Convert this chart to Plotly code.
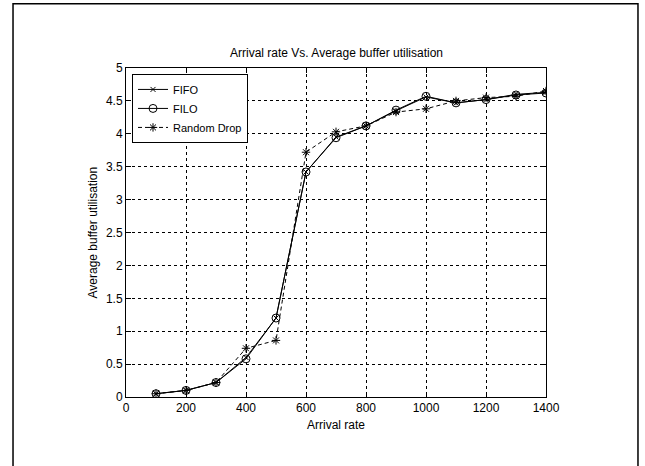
import plotly.graph_objects as go

arrival = [100, 200, 300, 400, 500, 600, 700, 800, 900, 1000, 1100, 1200, 1300, 1400]
fifo = [0.05, 0.10, 0.22, 0.60, 1.20, 3.42, 3.95, 4.12, 4.35, 4.56, 4.47, 4.52, 4.60, 4.63]
filo = [0.05, 0.10, 0.22, 0.58, 1.20, 3.42, 3.94, 4.12, 4.36, 4.57, 4.47, 4.52, 4.59, 4.62]
random_drop = [0.05, 0.10, 0.22, 0.74, 0.86, 3.72, 4.03, 4.12, 4.33, 4.38, 4.50, 4.55, 4.57, 4.65]

x_ticks = [0, 200, 400, 600, 800, 1000, 1200, 1400]
y_ticks = [0, 0.5, 1, 1.5, 2, 2.5, 3, 3.5, 4, 4.5, 5]

font = "Liberation Sans, Arial, sans-serif"

fig = go.Figure()
fig.add_trace(go.Scatter(x=arrival, y=fifo, name="FIFO", mode="lines+markers",
                         line=dict(color="black", width=1),
                         marker=dict(symbol="x-thin-open", size=5, color="black",
                                     line=dict(color="black", width=1))))
fig.add_trace(go.Scatter(x=arrival, y=filo, name="FILO", mode="lines+markers",
                         line=dict(color="black", width=1),
                         marker=dict(symbol="circle-open", size=8, color="black",
                                     line=dict(color="black", width=1))))
fig.add_trace(go.Scatter(x=arrival, y=random_drop, name="Random Drop", mode="lines+markers",
                         line=dict(color="black", width=1, dash="4px,3px"),
                         marker=dict(symbol="asterisk-open", size=7, color="black",
                                     line=dict(color="black", width=1))))

axis_common = dict(showline=True, linecolor="black", linewidth=1, mirror="ticks",
                   ticks="inside", ticklen=5, tickcolor="black",
                   showgrid=True, gridcolor="black", gridwidth=1, griddash="3px,3px",
                   zeroline=False, tickfont=dict(family=font, size=12, color="black"))

fig.update_xaxes(range=[0, 1400], tickvals=x_ticks, ticktext=[str(v) for v in x_ticks], **axis_common)
fig.update_yaxes(range=[0, 5], tickvals=y_ticks, ticktext=["0", "0.5", "1", "1.5", "2", "2.5", "3", "3.5", "4", "4.5", "5"], **axis_common)

fig.update_layout(
    width=645, height=466,
    margin=dict(l=126, r=99, t=68, b=69),
    paper_bgcolor="white", plot_bgcolor="white",
    font=dict(family=font, size=12, color="black"),
    showlegend=True,
    legend=dict(x=0.0143, y=0.982, xanchor="left", yanchor="top",
                bgcolor="white", bordercolor="black", borderwidth=1,
                font=dict(family=font, size=11, color="black"),
                tracegroupgap=0, itemwidth=30),
    shapes=[dict(type="rect", xref="paper", yref="paper",
                 x0=-0.269, x1=1.219, y0=-0.25, y1=1.195,
                 line=dict(color="black", width=1.5), layer="below")],
    annotations=[
        dict(text="Arrival rate Vs. Average buffer utilisation", xref="paper", yref="paper",
             x=0.5, y=1.046, xanchor="center", yanchor="middle", showarrow=False,
             font=dict(family=font, size=12, color="black")),
        dict(text="Arrival rate", xref="paper", yref="paper",
             x=0.5, y=-0.085, xanchor="center", yanchor="middle", showarrow=False,
             font=dict(family=font, size=12, color="black")),
        dict(text="Average buffer utilisation", xref="paper", yref="paper",
             x=-0.0786, y=0.5, xanchor="center", yanchor="middle", textangle=-90, showarrow=False,
             font=dict(family=font, size=12, color="black")),
    ],
)

fig.write_html("out.html")
